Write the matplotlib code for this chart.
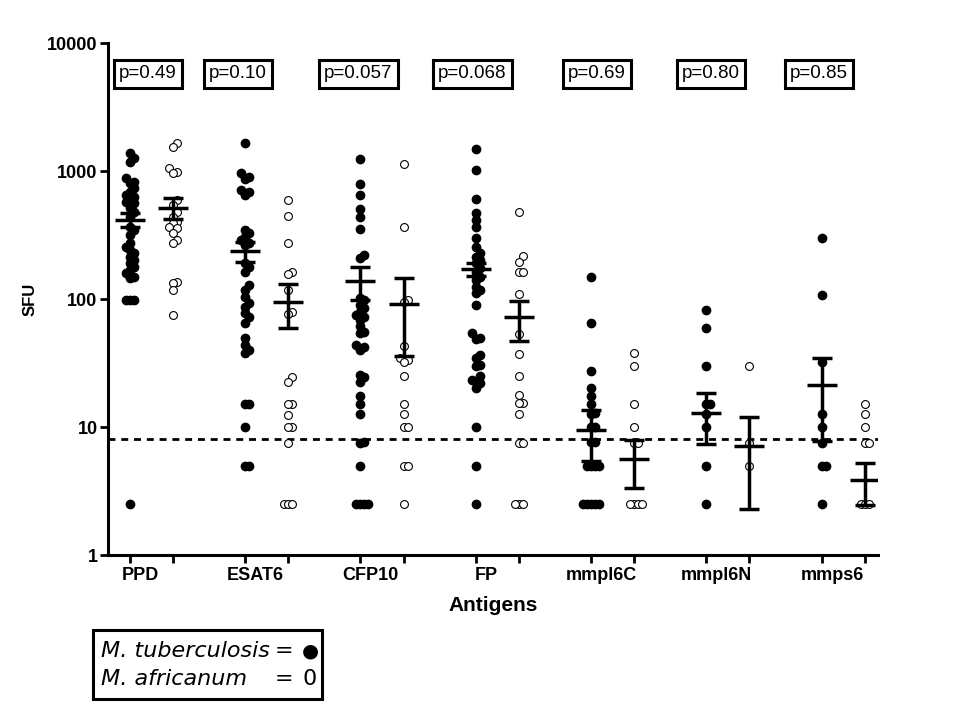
import numpy as np
import matplotlib.pyplot as plt
from matplotlib.patches import Rectangle
from matplotlib.ticker import NullLocator

plt.rcParams['font.family'] = ['Liberation Sans', 'DejaVu Sans']

antigens = ['PPD', 'ESAT6', 'CFP10', 'FP', 'mmpl6C', 'mmpl6N', 'mmps6']
p_values = ['p=0.49', 'p=0.10', 'p=0.057', 'p=0.068', 'p=0.69', 'p=0.80', 'p=0.85']

# SFU per donor, M. tuberculosis (filled) and M. africanum (open)
mtb_ppd = [1375, 1260, 1180, 880, 820, 805, 735, 685, 650, 627, 593, 572, 562, 514, 479,
           437, 365, 346, 316, 274, 255, 241, 229, 213, 202, 191, 178, 169, 160, 149, 146,
           98, 98, 98, 2.5]
maf_ppd = [1650, 1540, 1050, 980, 960, 590, 540, 478, 440, 400, 390, 365, 359, 328, 290,
           274, 136, 133, 117, 75]
mtb_esat6 = [1650, 960, 895, 870, 710, 685, 650, 346, 330, 305, 290, 274, 265, 191, 178,
             163, 129, 117, 104, 93, 87, 78, 72, 65, 50, 44, 40, 38, 15, 15, 10, 5, 5]
maf_esat6 = [590, 445, 274, 163, 157, 117, 79, 76, 24.5, 22.5, 15, 15, 12.4, 10, 10, 7.5,
             2.5, 2.5, 2.5]
mtb_cfp10 = [1235, 790, 650, 505, 437, 353, 220, 210, 102, 98, 89, 85, 79, 75, 72, 69, 61,
             55, 54, 44, 42, 40, 25.5, 24.5, 22.5, 17.5, 15, 12.6, 7.6, 7.5, 5,
             2.5, 2.5, 2.5, 2.5]
maf_cfp10 = [1130, 365, 98, 95, 43, 34.6, 33.3, 32, 25, 15, 12.6, 10, 10, 5, 5, 2.5]
mtb_fp = [1490, 1020, 605, 470, 415, 365, 300, 255, 229, 213, 202, 191, 174, 163, 148, 141,
          124, 117, 111, 89, 54, 50, 49, 36.5, 34.6, 30.6, 30, 25, 23.3, 22.5, 22, 20,
          10, 5, 2.5]
maf_fp = [478, 217, 195, 163, 163, 109, 53, 37, 25, 17.8, 15.4, 15.4, 12.6, 7.5, 7.5,
          2.5, 2.5, 2.5]
mtb_mmpl6c = [148, 65, 27.4, 20, 17.5, 15, 12.9, 12.6, 10, 10, 7.6, 7.6, 5, 5, 5, 5,
              2.5, 2.5, 2.5, 2.5, 2.5]
maf_mmpl6c = [38, 30, 15, 10, 7.5, 7.5, 2.5, 2.5, 2.5, 2.5]
mtb_mmpl6n = [82, 59, 30, 15, 15, 12.6, 10, 5, 2.5]
maf_mmpl6n = [30, 7.5, 5]
mtb_mmps6 = [300, 107, 32, 12.6, 10, 7.5, 5, 5, 2.5]
maf_mmps6 = [15, 12.6, 10, 7.5, 7.5, 2.5, 2.5, 2.5]

mtb_groups = [mtb_ppd, mtb_esat6, mtb_cfp10, mtb_fp, mtb_mmpl6c, mtb_mmpl6n, mtb_mmps6]
maf_groups = [maf_ppd, maf_esat6, maf_cfp10, maf_fp, maf_mmpl6c, maf_mmpl6n, maf_mmps6]

# mean +/- SEM as drawn
mtb_mean = [415, 237, 138, 172, 9.5, 12.9, 21.3]
mtb_sem = [52, 41, 40, 20, 4.1, 5.5, 13.5]
maf_mean = [515, 95, 91, 72, 5.6, 7.1, 3.85]
maf_sem = [97, 36, 55, 25, 2.25, 4.8, 1.4]

cutoff = 8


# spread points sideways (in pixels) where they would overlap, like a dot plot
def swarm_x(ax, x0, values, step=4.0, gap=6.0):
    pts = ax.transData.transform(np.column_stack([np.full(len(values), x0), values]))
    placed = []
    out = np.zeros(len(values))
    for idx in np.argsort(pts[:, 1]):
        y = pts[idx, 1]
        k = 0
        while True:
            off = (k + 1) // 2 * step * (1 if k % 2 else -1) if k else 0.0
            ok = all(abs(py - y) >= gap or abs(px - off) >= step * 0.95 for px, py in placed)
            if ok:
                break
            k += 1
        placed.append((off, y))
        out[idx] = pts[idx, 0] + off
    back = ax.transData.inverted().transform(np.column_stack([out, pts[:, 1]]))
    return back[:, 0]


fig = plt.figure(figsize=(9.6, 7.2), dpi=100)
ax = fig.add_axes([108 / 960, 1 - 555 / 720, (878 - 108) / 960, (555 - 43) / 720])
ax.set_yscale('log')
ax.set_ylim(1, 10000)
ax.set_xlim(-0.19, 6.49)

gap_in = 0.374
x_mtb = np.arange(len(antigens))
x_maf = x_mtb + gap_in

for i in range(len(antigens)):
    xs = swarm_x(ax, x_mtb[i], mtb_groups[i])
    ax.scatter(xs, mtb_groups[i], s=36, color='black', zorder=2)
    xs = swarm_x(ax, x_maf[i], maf_groups[i])
    ax.scatter(xs, maf_groups[i], s=32, facecolor='white', edgecolor='black',
               linewidth=0.8, zorder=2)

hw = 0.13
for xpos, m, e in [(x_mtb, mtb_mean, mtb_sem), (x_maf, maf_mean, maf_sem)]:
    ax.hlines(m, xpos - hw, xpos + hw, color='black', lw=2.5, zorder=3)
    ax.errorbar(xpos, m, yerr=e, fmt='none', ecolor='black', elinewidth=2.5,
                capsize=7.5, capthick=2.5, zorder=3)

ax.axhline(cutoff, color='black', lw=2, ls=(0, (2.5, 2.1)), zorder=1)

for side in ['top', 'right']:
    ax.spines[side].set_visible(False)
for side in ['left', 'bottom']:
    ax.spines[side].set_linewidth(2.2)

ax.set_yticks([1, 10, 100, 1000, 10000])
ax.set_yticklabels(['1', '10', '100', '1000', '10000'], fontsize=13, fontweight='bold')
ax.yaxis.set_minor_locator(NullLocator())
ax.tick_params(axis='y', length=6, width=2, pad=1.5)

ax.set_xticks(x_mtb + 0.09)
ax.set_xticklabels(antigens, fontsize=13, fontweight='bold')
ax.set_xticks(np.concatenate([x_mtb, x_maf]), minor=True)
ax.tick_params(axis='x', which='major', length=0, pad=9)
ax.tick_params(axis='x', which='minor', length=6, width=2)

ax.set_ylabel('SFU', fontsize=12, fontweight='bold', labelpad=7)
ax.set_xlabel('Antigens', fontsize=15, fontweight='bold', labelpad=8)

box_x = [148, 238, 358, 472, 597, 711, 819]
for cx, p in zip(box_x, p_values):
    fig.text(cx / 960, 1 - 74 / 720, p, ha='center', va='center', fontsize=13.5,
             bbox=dict(boxstyle='square,pad=0.28', fc='white', ec='black', lw=2.2))

# legend box
leg_font = ['DejaVu Sans']
fig.patches.append(Rectangle((93 / 960, 1 - 699 / 720), (322 - 93) / 960, (699 - 630) / 720,
                             transform=fig.transFigure, fill=False, ec='black', lw=2.2))
fig.text(101 / 960, 1 - 657 / 720, 'M. tuberculosis', fontsize=16, style='italic',
         va='baseline', family=leg_font)
fig.text(101 / 960, 1 - 685 / 720, 'M. africanum', fontsize=16, style='italic',
         va='baseline', family=leg_font)
fig.text(284 / 960, 1 - 657 / 720, '=', fontsize=16, ha='center', va='baseline',
         family=leg_font)
fig.text(284 / 960, 1 - 685 / 720, '=', fontsize=16, ha='center', va='baseline',
         family=leg_font)
fig.text(310 / 960, 1 - 656 / 720, '●', fontsize=14, ha='center', va='baseline',
         family=leg_font)
fig.text(310 / 960, 1 - 685 / 720, '0', fontsize=16, ha='center', va='baseline',
         family=leg_font)

fig.savefig('out.png', dpi=100)
